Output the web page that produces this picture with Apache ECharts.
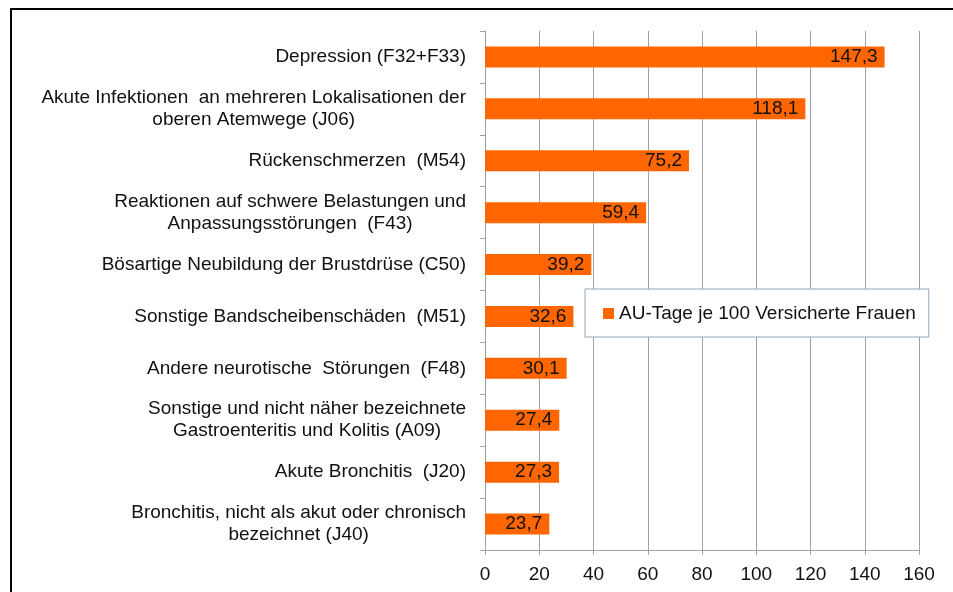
<!DOCTYPE html>
<html>
<head>
<meta charset="utf-8">
<script src="https://cdn.jsdelivr.net/npm/echarts@6/dist/echarts.min.js"></script>
<style>
  html, body { margin: 0; padding: 0; background: #fff; }
  #chart { width: 953px; height: 592px; }
</style>
</head>
<body>
<div id="chart"></div>
<script>
var categories = [
    'Depression (F32+F33)',
    'Akute Infektionen  an mehreren Lokalisationen der\noberen Atemwege (J06)',
    'Rückenschmerzen  (M54)',
    'Reaktionen auf schwere Belastungen und\nAnpassungsstörungen  (F43)',
    'Bösartige Neubildung der Brustdrüse (C50)',
    'Sonstige Bandscheibenschäden  (M51)',
    'Andere neurotische  Störungen  (F48)',
    'Sonstige und nicht näher bezeichnete\nGastroenteritis und Kolitis (A09)',
    'Akute Bronchitis  (J20)',
    'Bronchitis, nicht als akut oder chronisch\nbezeichnet (J40)'
];
var values = [147.3, 118.1, 75.2, 59.4, 39.2, 32.6, 30.1, 27.4, 27.3, 23.7];
var seriesName = 'AU-Tage je 100 Versicherte Frauen';

var font = 'Liberation Sans';
var chart = echarts.init(document.getElementById('chart'));

// jede Zeile zentriert innerhalb des rechtsbündigen Blocks
function centerLines(txt) {
    return txt.split('\n').map(function (l) { return '{c|' + l + '}'; }).join('\n');
}

var option = {
    animation: false,
    backgroundColor: '#fff',
    textStyle: { fontFamily: font },
    grid: { left: 485, right: 34, top: 31, bottom: 42 },
    legend: {
        data: [seriesName],
        left: 585,
        top: 289,
        padding: [15, 13, 14, 18],
        backgroundColor: '#fff',
        borderColor: '#8FA5BA',
        borderWidth: 1,
        borderRadius: 0,
        itemWidth: 11,
        itemHeight: 11,
        icon: 'rect',
        textStyle: { fontSize: 19, color: '#111', fontFamily: font }
    },
    xAxis: {
        type: 'value',
        min: 0,
        max: 160,
        interval: 20,
        axisLine: { show: true, lineStyle: { color: '#A0A0A0', width: 1 } },
        axisTick: { show: true, length: 5, lineStyle: { color: '#A0A0A0' } },
        splitLine: { show: true, lineStyle: { color: '#A0A0A0', width: 1 } },
        axisLabel: { fontSize: 19, color: '#111', margin: 15, fontFamily: font }
    },
    yAxis: {
        type: 'category',
        inverse: true,
        data: categories,
        axisLine: { show: true, lineStyle: { color: '#A0A0A0', width: 1 } },
        axisTick: { show: true, length: 5, lineStyle: { color: '#A0A0A0' } },
        axisLabel: {
            fontSize: 19,
            color: '#111',
            margin: 19,
            fontFamily: font,
            lineHeight: 22,
            formatter: centerLines,
            rich: {
                c: { align: 'center', fontSize: 19, lineHeight: 22, color: '#111', fontFamily: font }
            }
        }
    },
    series: [{
        name: seriesName,
        type: 'bar',
        data: values,
        barWidth: 21,
        itemStyle: { color: '#FF6600' },
        label: {
            show: true,
            position: 'insideRight',
            distance: 7,
            fontSize: 19,
            color: '#111',
            fontFamily: font,
            formatter: function (p) { return p.value.toFixed(1).replace('.', ','); }
        }
    }],
    graphic: [{
        type: 'rect',
        silent: true,
        shape: { x: 11, y: 9, width: 1000, height: 1000 },
        style: { fill: 'none', stroke: '#000', lineWidth: 2 }
    }]
};

chart.setOption(option);
</script>
</body>
</html>
